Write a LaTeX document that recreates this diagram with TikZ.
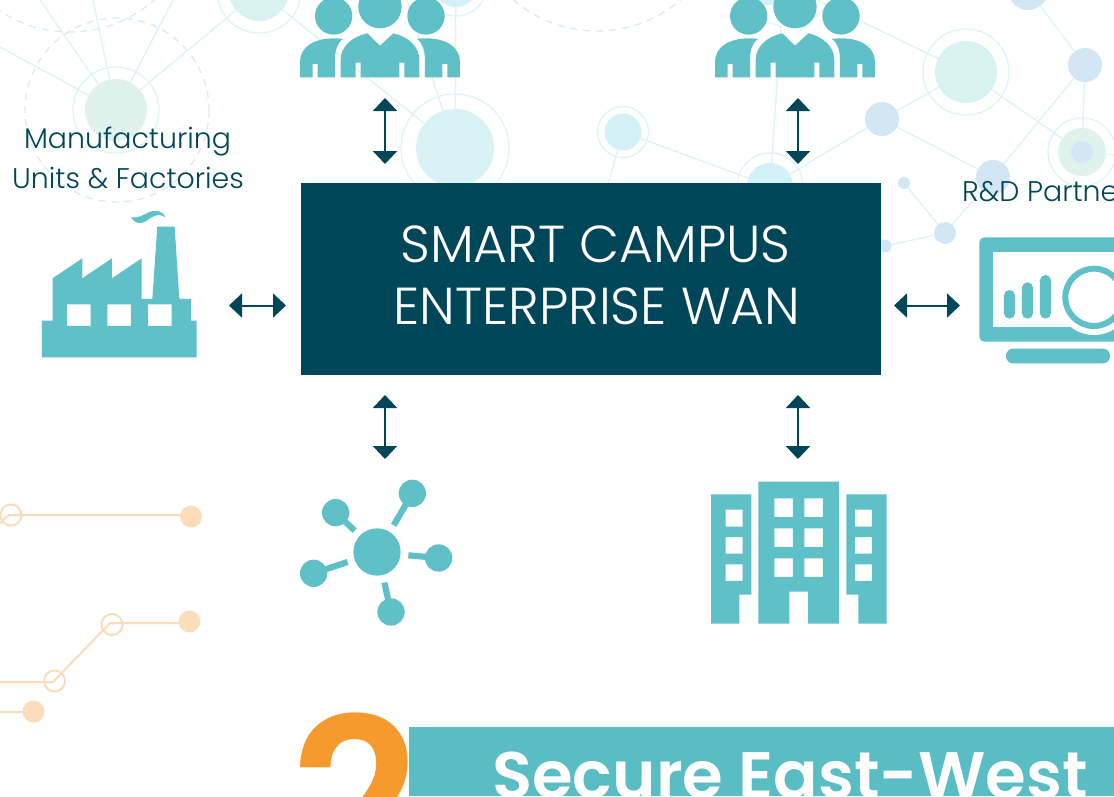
\documentclass[tikz,border=0pt]{standalone}
\usepackage{fontspec}
\setmainfont{Poppins}
\newfontfamily\lightfont{Poppins}[UprightFont=* Light]
\newfontfamily\heavyfont{Poppins}[UprightFont=* SemiBold]
\usetikzlibrary{arrows.meta}
\definecolor{teal}{HTML}{5FC0C7}
\definecolor{barteal}{HTML}{5ABDC4}
\definecolor{navy}{HTML}{004659}
\definecolor{netgreen}{HTML}{E0F2EC}
\definecolor{netaqua}{HTML}{D9F3F3}
\definecolor{netsky}{HTML}{D5F1F8}
\definecolor{netmid}{HTML}{D8F2F6}
\definecolor{netblue}{HTML}{D3E6F3}
\definecolor{netline}{HTML}{DFF3F6}
\definecolor{dashblue}{HTML}{DCE9F6}
\definecolor{peach}{HTML}{FBDDBB}
\definecolor{orange2}{HTML}{F79A2E}
\tikzset{
  x=1pt,y=-1pt,
  net/.style={circle,inner sep=0pt,draw=none},
  ringline/.style={draw=netline,line width=1.2pt},
  edge/.style={draw=netline,line width=1.3pt},
  dashring/.style={draw=dashblue,line width=1.3pt,dash pattern=on 7pt off 6pt},
  dbl/.style={navy,line width=2pt,{Triangle[width=24pt,length=13pt]}-{Triangle[width=24pt,length=13pt]}},
  lbl/.style={inner sep=0pt,anchor=base,text=navy,font=\lightfont\fontsize{28.4}{28.4}\selectfont},
  boxlbl/.style={inner sep=0pt,anchor=base,text=white,font=\lightfont\fontsize{52}{52}\selectfont},
  peachline/.style={draw=peach,line width=2pt},
  peachring/.style={circle,inner sep=0pt,minimum size=21pt,draw=peach,line width=2pt},
  peachdot/.style={circle,inner sep=0pt,minimum size=22pt,fill=peach},
  people/.pic={
    \fill[teal] (131,48) circle (56) (270,20) circle (65) (408,48) circle (56);
    \fill[teal] (30,232)--(30,185) .. controls (30,140) and (75,115) .. (130,115)--(160,116) .. controls (140,130) and (135,155) .. (135,175)--(135,232)--(83,232)--(83,192)--(68,192)--(68,232)--cycle;
    \fill[teal] (152,232)--(152,180) .. controls (152,140) and (185,110) .. (232,100)--(270,137)--(310,100) .. controls (355,110) and (388,140) .. (388,180)--(388,232)--(343,232)--(343,188)--(328,188)--(328,232)--(212,232)--(212,188)--(197,188)--(197,232)--cycle;
    \fill[teal] (510,232)--(510,185) .. controls (510,140) and (465,115) .. (410,115)--(380,116) .. controls (400,130) and (405,155) .. (405,175)--(405,232)--(457,232)--(457,192)--(472,192)--(472,232)--cycle;
  }
}
\begin{document}
\begin{tikzpicture}
\useasboundingbox (0,0) rectangle (1114,796);
\clip (0,0) rectangle (1114,796);
\fill[white] (0,0) rectangle (1114,796);

% background network, left
\draw[dashring] (117,110) circle (92);
\draw[dashring] (70,-95) circle (127);
\draw[dashring] (597,-97) circle (128);
\node[net,fill=netgreen,minimum size=62pt] (nL) at (116,110) {};
\draw[ringline] (nL.center) circle (43);
\node[net,fill=netaqua,minimum size=60pt] (nT) at (259,-9) {};
\draw[ringline] (nT.center) circle (42);
\node[net,fill=netmid,minimum size=78pt] (nM) at (455,148) {};
\draw[ringline] (nM.center) circle (54);
\node[net,fill=netsky,minimum size=44pt] (nU) at (456,-15) {};
\draw[ringline] (nU.center) circle (31);
\coordinate (lA) at (0,47);
\coordinate (lB) at (40,0);
\coordinate (lC) at (93,0);
\coordinate (lD) at (173,0);
\coordinate (lE) at (407,0);
\foreach \e in {lA,lB,lC,lD,nT}{\draw[edge] (nL) -- (\e);}
\draw[edge] (nT) -- (nM);
\draw[edge] (nU) -- (nM);
\draw[edge] (lE) -- (nM);

% background network, right
\node[net,fill=netsky,minimum size=37pt] (A) at (623,132) {};
\draw[ringline] (A.center) circle (25.5);
\node[net,fill=netsky,minimum size=46pt] (B) at (770,186) {};
\draw[ringline] (B.center) circle (33);
\node[net,fill=netaqua,minimum size=62pt] (C) at (966,72) {};
\draw[ringline] (C.center) circle (43);
\node[net,fill=netblue,minimum size=34pt] (D) at (882,119) {};
\node[net,fill=netblue,minimum size=34pt] (E) at (993,177) {};
\node[net,fill=netblue,minimum size=34pt] (F) at (1085,65) {};
\node[net,fill=netblue,minimum size=40pt] (G) at (1028,-10) {};
\node[net,fill=netgreen,minimum size=48pt] (H) at (1082,152) {};
\draw[ringline] (H.center) circle (34);
\node[net,fill=netblue,minimum size=22pt] (Hi) at (1082,152) {};
\node[net,fill=netblue,minimum size=12pt] (I) at (904,183) {};
\node[net,fill=netblue,minimum size=22pt] (J) at (945,233) {};
\node[net,fill=netblue,minimum size=13pt] (K) at (885,246) {};
\node[net,fill=netsky,minimum size=46pt] (P) at (768,-18) {};
\coordinate (aD) at (608,184);
\coordinate (hR) at (1114,155);
\coordinate (cU) at (755,-30);
\coordinate (kL) at (860,250);
\coordinate (q) at (781,26);
\coordinate (qL) at (760,20);
\coordinate (qA) at (800,30);
\coordinate (qB) at (830,5);
\foreach \a/\b in {A/B,A/aD,B/D,D/C,D/E,C/H,E/F,F/Hi,F/G,E/J,J/I,J/K,Hi/hR,C/cU,B/q,q/qL,qA/qB,K/kL}{\draw[edge] (\a) -- (\b);}

% peach lines
\coordinate (p0) at (0,523);
\coordinate (p1) at (9,515);
\coordinate (p2) at (0,682);
\coordinate (p3) at (53,682);
\coordinate (p4) at (110,623);
\coordinate (p5) at (0,712);
\node[peachring] (r1) at (11,515) {};
\node[peachdot] (d1) at (191,516.5) {};
\node[peachring] (r2) at (54.5,681) {};
\node[peachring] (r3) at (112,624.5) {};
\node[peachdot] (d2) at (189.5,621.5) {};
\node[peachdot] (d3) at (33.5,711.5) {};
\draw[peachline] (p0) -- (p1) -- (p1 -| d1);
\draw[peachline] (p2) -- (p3) -- (p4) -- (p4 -| d2);
\draw[peachline] (p5) -- (p5 -| d3);

% main box
\node[fill=navy,minimum width=580pt,minimum height=192pt,inner sep=0pt] (wan) at (591,279) {};
\node[boxlbl] (wan1) at (595.5,262) {SMART CAMPUS};
\node[boxlbl] (wan2) at (597,324) {ENTERPRISE WAN};

% labels
\node[lbl] (mf1) at (127.5,148) {Manufacturing};
\node[lbl] (mf2) at (128,188) {Units \& Factories};
\node[lbl,anchor=base west] (rd) at (962,201) {R\&D Partners};

% people
\pic[shift={(290,0)},scale=.3333] {people};
\pic[shift={(705,0)},scale=.3333] {people};

% factory
\begin{scope}[scale=.3333]
\fill[teal,even odd rule] (126,1072)--(126,962)--(158,962)--(158,835)--(247,775)--(247,835)--(336,775)--(336,835)--(425,775)--(425,897)--(457,897)--(472,680)--(524,680)--(538,897)--(573,897)--(573,962)--(590,962)--(590,1072)--cycle
 (201,913) rectangle (272,978) (322,913) rectangle (393,978) (444,913) rectangle (515,978);
\fill[teal] (393,652) .. controls (415,655) and (430,645) .. (450,635) .. controls (470,628) and (490,635) .. (497,652) .. controls (480,640) and (465,645) .. (450,655) .. controls (435,668) and (410,680) .. (393,652) -- cycle;
\end{scope}

% monitor
\begin{scope}[shift={(880,220)},scale=.3333]
\fill[teal,rounded corners=5pt] (298,52) rectangle (900,365);
\fill[white] (340,96) rectangle (900,322);
\fill[white] (642,232) circle (113);
\draw[teal,line width=6pt] (642,232) circle (86);
\fill[teal,rounded corners=5.4pt] (372,210) rectangle (405,296);
\fill[teal,rounded corners=5.4pt] (426,187) rectangle (459,296);
\fill[teal,rounded corners=5.4pt] (480,165) rectangle (513,296);
\fill[teal,rounded corners=7pt] (378,386) rectangle (690,430);
\end{scope}

% hub
\begin{scope}[shift={(280,460)},scale=.3333]
\fill[teal] (291,276) circle (71);
\foreach \sx/\sy/\ex/\ey in {397/100/341/196,167/158/224/212,476/294/385/286,101/340/203/306,333/456/313/368}{
  \fill[teal] (\sx,\sy) circle (41);
  \draw[teal,line width=6.2pt] (\sx,\sy) -- (\ex,\ey);
}
\end{scope}

% building
\begin{scope}[shift={(690,470)},scale=.3333]
\fill[teal,even odd rule] (63,73)--(184,73)--(184,374)--(148,374)--(148,461)--(63,461)--cycle
 (107,119) rectangle (158,170) (107,201) rectangle (158,251) (107,283) rectangle (158,333);
\fill[teal,even odd rule] (205,35)--(447,35)--(447,461)--(354,461)--(354,365)--(298,365)--(298,461)--(205,461)--cycle
 (253,85) rectangle (309,141) (343,85) rectangle (399,141)
 (253,175) rectangle (309,231) (343,175) rectangle (399,231)
 (253,265) rectangle (309,321) (343,265) rectangle (399,321);
\fill[teal,even odd rule] (469,73)--(590,73)--(590,461)--(505,461)--(505,374)--(469,374)--cycle
 (495,119) rectangle (546,170) (495,201) rectangle (546,251) (495,283) rectangle (546,333);
\end{scope}

% arrows
\coordinate (a1a) at (385,98);   \coordinate (a1b) at (385,164);
\coordinate (a2a) at (798,98);   \coordinate (a2b) at (798,164);
\coordinate (a3a) at (229,305.5);\coordinate (a3b) at (286,305.5);
\coordinate (a4a) at (894,305.5);\coordinate (a4b) at (960,305.5);
\coordinate (a5a) at (385,395);  \coordinate (a5b) at (385,459);
\coordinate (a6a) at (798,395);  \coordinate (a6b) at (798,459);
\foreach \n in {1,...,6}{\draw[dbl] (a\n a) -- (a\n b);}

% bottom band
\node[inner sep=0pt,anchor=base,text=orange2,font=\heavyfont\fontsize{225}{225}\selectfont] (two) at (355,880) {2};
\fill[barteal] (409,727) rectangle (1114,796);
\node[inner sep=0pt,anchor=base,text=white,font=\heavyfont\fontsize{65.8}{65.8}\selectfont] (sec) at (790,798) {Secure East-West};
\end{tikzpicture}
\end{document}
